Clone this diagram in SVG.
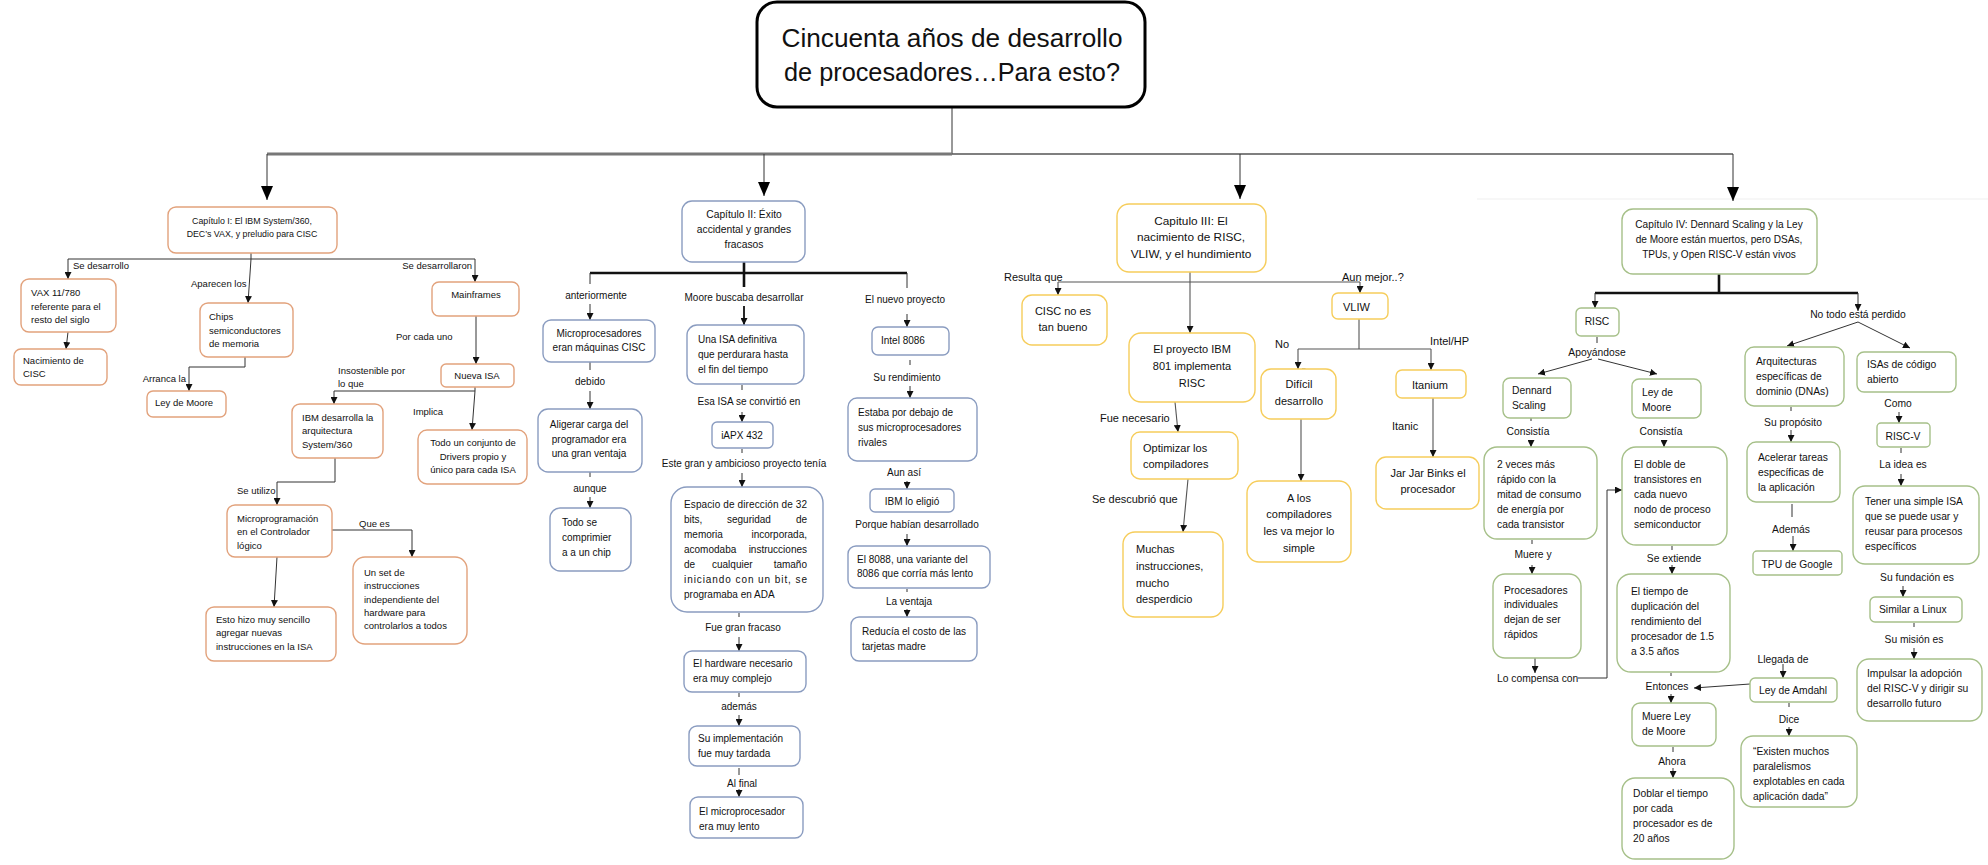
<svg xmlns="http://www.w3.org/2000/svg" width="1988" height="865" viewBox="0 0 1988 865">
<defs>
<style>
text{font-family:"Liberation Sans",Arial,sans-serif;fill:#111}
.m{text-anchor:middle}
.e{text-anchor:end}
.f1{font-size:9.5px}
.f1t{font-size:8.8px}
.f2{font-size:10px}
.f2t{font-size:10.3px}
.f3{font-size:11px}
.f3t{font-size:11.8px}
.f4{font-size:10.3px}
.f4t{font-size:10.1px}
rect{fill:#fff;stroke-width:1.4}
.b1{stroke:#e2a27c}
.b2{stroke:#8a9cc0}
.b3{stroke:#f6cd5b}
.b4{stroke:#a6c089}
.ln{fill:none;stroke:#333;stroke-width:1}
.lg{fill:none;stroke:#555;stroke-width:1.1}
.tk{fill:none;stroke:#111;stroke-width:2.6}
</style>
<marker id="big" markerUnits="userSpaceOnUse" markerWidth="14" markerHeight="12" refX="14" refY="6" orient="auto"><path d="M0,0 L14,6 L0,12 z" fill="#000"/></marker>
<marker id="ar" markerUnits="userSpaceOnUse" markerWidth="7" markerHeight="7" refX="7" refY="3.5" orient="auto"><path d="M0,0 L7,3.5 L0,7 z" fill="#111"/></marker>
</defs>
<rect x="0" y="0" width="1988" height="865" style="fill:#fff;stroke:none"/>
<path d="M1477,199 H1988" style="fill:none;stroke:#efefef;stroke-width:1"/>

<g id="connectors">
<path d="M952,107 V154" class="ln"/>
<path d="M267,154 H952" style="fill:none;stroke:#777;stroke-width:3"/>
<path d="M952,154 H1733" style="fill:none;stroke:#555;stroke-width:1.5"/>
<path d="M267,154 V200" class="ln" marker-end="url(#big)"/>
<path d="M764,154 V196" class="ln" marker-end="url(#big)"/>
<path d="M1240,154 V199" class="ln" marker-end="url(#big)"/>
<path d="M1733,154 V201" class="ln" marker-end="url(#big)"/>
<path d="M251,253 V259 M68,259 H475" class="ln"/>
<path d="M68,259 V279" class="ln" marker-end="url(#ar)"/>
<path d="M475,259 V282" class="ln" marker-end="url(#ar)"/>
<path d="M251,259 L248,303" class="ln" marker-end="url(#ar)"/>
<path d="M68,332 L66,349" class="ln" marker-end="url(#ar)"/>
<path d="M245,357 V367 H189 V391" class="ln" marker-end="url(#ar)"/>
<path d="M476,316 V364" class="ln" marker-end="url(#ar)"/>
<path d="M475,387 V391 H334 V404" class="ln" marker-end="url(#ar)"/>
<path d="M475,391 L472,430" class="ln" marker-end="url(#ar)"/>
<path d="M335,458 V482 H277 V505" class="ln" marker-end="url(#ar)"/>
<path d="M332,530 H412 V557" class="ln" marker-end="url(#ar)"/>
<path d="M277,557 L274,607" class="ln" marker-end="url(#ar)"/>
<path d="M744,262 V287 M590,273 H907" class="tk"/>
<path d="M590,273 V284 M907,273 V288" class="ln"/>
<path d="M590,304 V320" class="ln" marker-end="url(#ar)"/>
<path d="M744,306 V325" style="fill:none;stroke:#111;stroke-width:1.8" marker-end="url(#ar)"/>
<path d="M907,314 V327" class="ln" marker-end="url(#ar)"/>
<path d="M590,362 V370" class="ln"/>
<path d="M590,391 V409" class="ln" marker-end="url(#ar)"/>
<path d="M590,472 V477" class="ln"/>
<path d="M590,497 V508" class="ln" marker-end="url(#ar)"/>
<path d="M742,385 V390" class="ln"/>
<path d="M742,412 V422" class="ln" marker-end="url(#ar)"/>
<path d="M742,449 V453" class="ln"/>
<path d="M742,473 V487" class="ln" marker-end="url(#ar)"/>
<path d="M739,613 V617" class="ln"/>
<path d="M739,637 V651" class="ln" marker-end="url(#ar)"/>
<path d="M739,693 V697" class="ln"/>
<path d="M739,715 V726" class="ln" marker-end="url(#ar)"/>
<path d="M739,768 V775" class="ln"/>
<path d="M739,789 V797" class="ln" marker-end="url(#ar)"/>
<path d="M910,360 V365" class="ln"/>
<path d="M910,386 V398" class="ln" marker-end="url(#ar)"/>
<path d="M907,481 V489" class="ln" marker-end="url(#ar)"/>
<path d="M907,534 V546" class="ln" marker-end="url(#ar)"/>
<path d="M907,589 V592" class="ln"/>
<path d="M907,609 V617" class="ln" marker-end="url(#ar)"/>
<path d="M1190,272 V282 M1058,282 H1360" class="lg"/>
<path d="M1058,282 V295" class="lg" marker-end="url(#ar)"/>
<path d="M1360,282 V293" class="lg" marker-end="url(#ar)"/>
<path d="M1190,282 V333" class="lg" marker-end="url(#ar)"/>
<path d="M1175,402 L1178,432" class="lg" marker-end="url(#ar)"/>
<path d="M1188,479 L1183,532" class="lg" marker-end="url(#ar)"/>
<path d="M1359,319 V349 M1298,349 H1431" class="lg"/>
<path d="M1298,349 V369" class="lg" marker-end="url(#ar)"/>
<path d="M1431,349 V370" class="lg" marker-end="url(#ar)"/>
<path d="M1302,369 H1305 V383" class="lg"/>
<path d="M1301,419 V481" class="lg" marker-end="url(#ar)"/>
<path d="M1433,398 V457" class="lg" marker-end="url(#ar)"/>
<path d="M1719,274 V293 M1595,293 H1858" class="tk"/>
<path d="M1595,293 V308" class="ln" marker-end="url(#ar)"/>
<path d="M1858,293 V311" class="ln" marker-end="url(#ar)"/>
<path d="M1597,337 V343" class="ln"/>
<path d="M1592,359 L1538,374" class="ln" marker-end="url(#ar)"/>
<path d="M1598,359 L1657,374" class="ln" marker-end="url(#ar)"/>
<path d="M1531,418 V421" class="ln"/>
<path d="M1531,440 V447" class="ln" marker-end="url(#ar)"/>
<path d="M1664,440 V447" class="ln" marker-end="url(#ar)"/>
<path d="M1532,540 V544" class="ln"/>
<path d="M1532,565 V574" class="ln" marker-end="url(#ar)"/>
<path d="M1535,658 V673" class="ln" marker-end="url(#ar)"/>
<path d="M1578,678 H1607 V490 H1622" class="ln" marker-end="url(#ar)"/>
<path d="M1672,546 V550" class="ln"/>
<path d="M1672,565 V574" class="ln" marker-end="url(#ar)"/>
<path d="M1671,673 V676" class="ln"/>
<path d="M1671,694 V703" class="ln" marker-end="url(#ar)"/>
<path d="M1750,684 L1694,688" class="ln" marker-end="url(#ar)"/>
<path d="M1673,747 V752" class="ln"/>
<path d="M1673,768 V778" class="ln" marker-end="url(#ar)"/>
<path d="M1783,664 V678" class="ln" marker-end="url(#ar)"/>
<path d="M1789,703 V707" class="ln"/>
<path d="M1789,727 V736" class="ln" marker-end="url(#ar)"/>
<path d="M1858,322 L1787,346" class="ln" marker-end="url(#ar)"/>
<path d="M1858,322 L1910,348" class="ln" marker-end="url(#ar)"/>
<path d="M1791,407 V411" class="ln"/>
<path d="M1791,430 V442" class="ln" marker-end="url(#ar)"/>
<path d="M1792,504 V517" class="ln"/>
<path d="M1793,536 V551" class="ln" marker-end="url(#ar)"/>
<path d="M1899,412 V423" class="ln" marker-end="url(#ar)"/>
<path d="M1901,448 V453" class="ln"/>
<path d="M1901,474 V486" class="ln" marker-end="url(#ar)"/>
<path d="M1903,586 V597" class="ln" marker-end="url(#ar)"/>
<path d="M1914,623 V627" class="ln"/>
<path d="M1914,648 V659" class="ln" marker-end="url(#ar)"/>
</g>

<g id="labels">
<text class="f1" x="73" y="269">Se desarrollo</text>
<text class="f1 e" x="472" y="269">Se desarrollaron</text>
<text class="f1" x="191" y="287">Aparecen los</text>
<text class="f1 e" x="186" y="382">Arranca la</text>
<text class="f1" x="396" y="340">Por cada uno</text>
<text class="f1" x="338" y="374">Insostenible por</text>
<text class="f1" x="338" y="387">lo que</text>
<text class="f1" x="413" y="415">Implica</text>
<text class="f1" x="237" y="494">Se utilizo</text>
<text class="f1" x="359" y="527">Que es</text>
<text class="f2 m" x="596" y="299">anteriormente</text>
<text class="f2 m" x="744" y="301">Moore buscaba desarrollar</text>
<text class="f2 m" x="905" y="303">El nuevo proyecto</text>
<text class="f2 m" x="590" y="385">debido</text>
<text class="f2 m" x="590" y="492">aunque</text>
<text class="f2 m" x="749" y="404.5">Esa ISA se convirtió en</text>
<text class="f2 m" x="744" y="466.5">Este gran y ambicioso proyecto tenía</text>
<text class="f2 m" x="743" y="630.5">Fue gran fracaso</text>
<text class="f2 m" x="739" y="709.5">además</text>
<text class="f2 m" x="742" y="786.5">Al final</text>
<text class="f2 m" x="907" y="380.5">Su rendimiento</text>
<text class="f2 m" x="904" y="475.5">Aun así</text>
<text class="f2 m" x="917" y="527.5">Porque habían desarrollado</text>
<text class="f2 m" x="909" y="604.5">La ventaja</text>
<text class="f3" x="1004" y="281">Resulta que</text>
<text class="f3" x="1342" y="281">Aun mejor..?</text>
<text class="f3" x="1100" y="422">Fue necesario</text>
<text class="f3" x="1092" y="503">Se descubrió que</text>
<text class="f3" x="1275" y="348">No</text>
<text class="f3" x="1430" y="345">Intel/HP</text>
<text class="f3" x="1392" y="430">Itanic</text>
<text class="f4 m" x="1597" y="355.5">Apoyándose</text>
<text class="f4 m" x="1528" y="434.5">Consistía</text>
<text class="f4 m" x="1661" y="434.5">Consistía</text>
<text class="f4 m" x="1533" y="557.5">Muere y</text>
<text class="f4" x="1497" y="681.5">Lo compensa con</text>
<text class="f4 m" x="1674" y="561.5">Se extiende</text>
<text class="f4 m" x="1667" y="689.5">Entonces</text>
<text class="f4 m" x="1672" y="764.5">Ahora</text>
<text class="f4 m" x="1783" y="662.5">Llegada de</text>
<text class="f4 m" x="1789" y="722.5">Dice</text>
<text class="f4 m" x="1858" y="317.5">No todo está perdido</text>
<text class="f4 m" x="1793" y="425.5">Su propósito</text>
<text class="f4 m" x="1791" y="532.5">Además</text>
<text class="f4 m" x="1898" y="406.5">Como</text>
<text class="f4 m" x="1903" y="467.5">La idea es</text>
<text class="f4 m" x="1917" y="580.5">Su fundación es</text>
<text class="f4 m" x="1914" y="642.5">Su misión es</text>
</g>

<g id="title">
<rect x="757" y="2" width="388" height="105" rx="20" style="stroke:#000;stroke-width:3"/>
<text class="m" x="952" y="47" style="font-size:25px" textLength="341" lengthAdjust="spacingAndGlyphs">Cincuenta años de desarrollo</text>
<text class="m" x="952" y="81" style="font-size:25px" textLength="336" lengthAdjust="spacingAndGlyphs">de procesadores…Para esto?</text>
</g>

<g id="cap1"><rect class="b1" x="168" y="207" width="169" height="46" rx="8"/>
<text class="f1t m" x="252" y="224">Capítulo I: El IBM System/360,</text>
<text class="f1t m" x="252" y="237">DEC’s VAX, y preludio para CISC</text></g>
<g id="vax"><rect class="b1" x="21" y="279" width="95" height="53" rx="8"/>
<text class="f1" x="31" y="296">VAX 11/780</text><text class="f1" x="31" y="310">referente para el</text><text class="f1" x="31" y="323">resto del siglo</text></g>
<g id="nacimiento"><rect class="b1" x="14" y="349" width="93" height="36" rx="7"/>
<text class="f1" x="23" y="364">Nacimiento de</text><text class="f1" x="23" y="377">CISC</text></g>
<g id="chips"><rect class="b1" x="200" y="303" width="93" height="54" rx="8"/>
<text class="f1" x="209" y="320">Chips</text><text class="f1" x="209" y="334">semiconductores</text><text class="f1" x="209" y="347">de memoria</text></g>
<g id="leymoore1"><rect class="b1" x="147" y="391" width="79" height="26" rx="6"/>
<text class="f1" x="155" y="406">Ley de Moore</text></g>
<g id="mainframes"><rect class="b1" x="432" y="282" width="87" height="34" rx="7"/>
<text class="f1 m" x="476" y="298">Mainframes</text></g>
<g id="nuevaisa"><rect class="b1" x="441" y="364" width="73" height="23" rx="5"/>
<text class="f1 m" x="477" y="379">Nueva ISA</text></g>
<g id="ibm360"><rect class="b1" x="292" y="404" width="91" height="54" rx="8"/>
<text class="f1" x="302" y="421">IBM desarrolla la</text><text class="f1" x="302" y="434">arquitectura</text><text class="f1" x="302" y="448">System/360</text></g>
<g id="drivers"><rect class="b1" x="418" y="430" width="109" height="54" rx="9"/>
<text class="f1 m" x="473" y="446">Todo un conjunto de</text><text class="f1 m" x="473" y="460">Drivers propio y</text><text class="f1 m" x="473" y="473">único para cada ISA</text></g>
<g id="micro"><rect class="b1" x="227" y="505" width="105" height="52" rx="8"/>
<text class="f1" x="237" y="522">Microprogramación</text><text class="f1" x="237" y="535">en el Controlador</text><text class="f1" x="237" y="549">lógico</text></g>
<g id="unset"><rect class="b1" x="353" y="557" width="114" height="87" rx="12"/>
<text class="f1" x="364" y="576">Un set de</text><text class="f1" x="364" y="589">instrucciones</text><text class="f1" x="364" y="602.5">independiente del</text><text class="f1" x="364" y="616">hardware para</text><text class="f1" x="364" y="629">controlarlos a todos</text></g>
<g id="esto"><rect class="b1" x="206" y="607" width="130" height="54" rx="8"/>
<text class="f1" x="216" y="623">Esto hizo muy sencillo</text><text class="f1" x="216" y="636">agregar nuevas</text><text class="f1" x="216" y="650">instrucciones en la ISA</text></g>

<g id="cap2"><rect class="b2" x="682" y="201" width="123" height="61" rx="10"/>
<text class="f2t m" x="744" y="218">Capítulo II: Éxito</text><text class="f2t m" x="744" y="233">accidental y grandes</text><text class="f2t m" x="744" y="248">fracasos</text></g>
<g id="microcisc"><rect class="b2" x="543" y="320" width="112" height="42" rx="8"/>
<text class="f2 m" x="599" y="336.5">Microprocesadores</text><text class="f2 m" x="599" y="350.5">eran máquinas CISC</text></g>
<g id="aligerar"><rect class="b2" x="538" y="409" width="104" height="63" rx="10"/>
<text class="f2 m" x="589" y="427.5">Aligerar carga del</text><text class="f2 m" x="589" y="442.5">programador era</text><text class="f2 m" x="589" y="456.5">una gran ventaja</text></g>
<g id="todose"><rect class="b2" x="550" y="508" width="81" height="63" rx="10"/>
<text class="f2" x="562" y="525.5">Todo se</text><text class="f2" x="562" y="540.5">comprimier</text><text class="f2" x="562" y="555.5">a a un chip</text></g>
<g id="unaisa"><rect class="b2" x="687" y="325" width="117" height="59" rx="10"/>
<text class="f2" x="698" y="342.5">Una ISA definitiva</text><text class="f2" x="698" y="357.5">que perdurara hasta</text><text class="f2" x="698" y="372.5">el fin del tiempo</text></g>
<g id="iapx"><rect class="b2" x="712" y="422" width="61" height="26" rx="5"/>
<text class="f2 m" x="742" y="438.5">iAPX 432</text></g>
<g id="espacio"><rect class="b2" x="671" y="487" width="152" height="125" rx="16"/>
<text class="f2" x="684" y="507.5" textLength="123" lengthAdjust="spacing">Espacio de dirección de 32</text>
<text class="f2" x="684" y="522.5">bits,</text><text class="f2" x="727" y="522.5">seguridad</text><text class="f2 e" x="807" y="522.5">de</text>
<text class="f2" x="684" y="537.5">memoria</text><text class="f2 e" x="807" y="537.5">incorporada,</text>
<text class="f2" x="684" y="552.5">acomodaba</text><text class="f2 e" x="807" y="552.5">instrucciones</text>
<text class="f2" x="684" y="567.5">de</text><text class="f2" x="712" y="567.5">cualquier</text><text class="f2 e" x="807" y="567.5">tamaño</text>
<text class="f2" x="684" y="582.5" textLength="123" lengthAdjust="spacing">iniciando con un bit, se</text>
<text class="f2" x="684" y="597.5">programaba en ADA</text></g>
<g id="hardware"><rect class="b2" x="684" y="651" width="122" height="41" rx="8"/>
<text class="f2" x="693" y="666.5">El hardware necesario</text><text class="f2" x="693" y="681.5">era muy complejo</text></g>
<g id="implementacion"><rect class="b2" x="689" y="726" width="111" height="40" rx="8"/>
<text class="f2" x="698" y="741.5">Su implementación</text><text class="f2" x="698" y="756.5">fue muy tardada</text></g>
<g id="lento"><rect class="b2" x="690" y="797" width="113" height="41" rx="8"/>
<text class="f2" x="699" y="814.5">El microprocesador</text><text class="f2" x="699" y="829.5">era muy lento</text></g>
<g id="intel8086"><rect class="b2" x="872" y="327" width="77" height="28" rx="6"/>
<text class="f2" x="881" y="343.5">Intel 8086</text></g>
<g id="estaba"><rect class="b2" x="848" y="398" width="129" height="63" rx="9"/>
<text class="f2" x="858" y="415.5">Estaba por debajo de</text><text class="f2" x="858" y="430.5">sus microprocesadores</text><text class="f2" x="858" y="445.5">rivales</text></g>
<g id="ibmeligio"><rect class="b2" x="870" y="489" width="84" height="23" rx="5"/>
<text class="f2 m" x="912" y="504.5">IBM lo eligió</text></g>
<g id="i8088"><rect class="b2" x="848" y="546" width="142" height="42" rx="8"/>
<text class="f2" x="857" y="562.5">El 8088, una variante del</text><text class="f2" x="857" y="576.5">8086 que corría más lento</text></g>
<g id="reducia"><rect class="b2" x="851" y="617" width="126" height="44" rx="8"/>
<text class="f2" x="862" y="634.5">Reducía el costo de las</text><text class="f2" x="862" y="649.5">tarjetas madre</text></g>

<g id="cap3"><rect class="b3" x="1117" y="204" width="149" height="68" rx="12"/>
<text class="f3t m" x="1191" y="225">Capitulo III: El</text><text class="f3t m" x="1191" y="241">nacimiento de RISC,</text><text class="f3t m" x="1191" y="258">VLIW, y el hundimiento</text></g>
<g id="cisc"><rect class="b3" x="1022" y="295" width="85" height="50" rx="10"/>
<text class="f3 m" x="1063" y="315">CISC no es</text><text class="f3 m" x="1063" y="331">tan bueno</text></g>
<g id="ibm801"><rect class="b3" x="1129" y="333" width="126" height="69" rx="12"/>
<text class="f3 m" x="1192" y="353">El proyecto IBM</text><text class="f3 m" x="1192" y="370">801 implementa</text><text class="f3 m" x="1192" y="387">RISC</text></g>
<g id="optimizar"><rect class="b3" x="1131" y="432" width="107" height="47" rx="9"/>
<text class="f3" x="1143" y="452">Optimizar los</text><text class="f3" x="1143" y="468">compiladores</text></g>
<g id="muchas"><rect class="b3" x="1123" y="532" width="100" height="85" rx="12"/>
<text class="f3" x="1136" y="553">Muchas</text><text class="f3" x="1136" y="570">instrucciones,</text><text class="f3" x="1136" y="587">mucho</text><text class="f3" x="1136" y="603">desperdicio</text></g>
<g id="vliw"><rect class="b3" x="1332" y="293" width="56" height="26" rx="6"/>
<text class="f3" x="1343" y="311">VLIW</text></g>
<g id="dificil"><rect class="b3" x="1261" y="369" width="75" height="50" rx="10"/>
<text class="f3 m" x="1299" y="388">Difícil</text><text class="f3 m" x="1299" y="405">desarrollo</text></g>
<g id="alos"><rect class="b3" x="1247" y="481" width="104" height="81" rx="12"/>
<text class="f3 m" x="1299" y="502">A los</text><text class="f3 m" x="1299" y="518">compiladores</text><text class="f3 m" x="1299" y="535">les va mejor lo</text><text class="f3 m" x="1299" y="552">simple</text></g>
<g id="itanium"><rect class="b3" x="1396" y="370" width="70" height="28" rx="6"/>
<text class="f3 m" x="1430" y="389">Itanium</text></g>
<g id="jarjar"><rect class="b3" x="1376" y="457" width="103" height="52" rx="10"/>
<text class="f3 m" x="1428" y="477">Jar Jar Binks el</text><text class="f3 m" x="1428" y="493">procesador</text></g>

<g id="cap4"><rect class="b4" x="1622" y="209" width="195" height="65" rx="11"/>
<text class="f4t m" x="1719" y="227.5">Capítulo IV: Dennard Scaling y la Ley</text><text class="f4t m" x="1719" y="242.5">de Moore están muertos, pero DSAs,</text><text class="f4t m" x="1719" y="257.5">TPUs, y Open RISC-V están vivos</text></g>
<g id="risc"><rect class="b4" x="1576" y="308" width="43" height="28" rx="5"/>
<text class="f4 m" x="1597" y="324.5">RISC</text></g>
<g id="dennard"><rect class="b4" x="1503" y="378" width="68" height="40" rx="7"/>
<text class="f4" x="1512" y="393.5">Dennard</text><text class="f4" x="1512" y="408.5">Scaling</text></g>
<g id="leymoore4"><rect class="b4" x="1632" y="379" width="69" height="39" rx="7"/>
<text class="f4" x="1642" y="395.5">Ley de</text><text class="f4" x="1642" y="410.5">Moore</text></g>
<g id="dosveces"><rect class="b4" x="1484" y="447" width="113" height="92" rx="13"/>
<text class="f4" x="1497" y="467.5">2 veces más</text><text class="f4" x="1497" y="482.5">rápido con la</text><text class="f4" x="1497" y="497.5">mitad de consumo</text><text class="f4" x="1497" y="512.5">de energía por</text><text class="f4" x="1497" y="527.5">cada transistor</text></g>
<g id="doble"><rect class="b4" x="1622" y="447" width="105" height="98" rx="14"/>
<text class="f4" x="1634" y="467.5">El doble de</text><text class="f4" x="1634" y="482.5">transistores en</text><text class="f4" x="1634" y="497.5">cada nuevo</text><text class="f4" x="1634" y="512.5">nodo de proceso</text><text class="f4" x="1634" y="527.5">semiconductor</text></g>
<g id="procesadores"><rect class="b4" x="1493" y="574" width="88" height="84" rx="12"/>
<text class="f4" x="1504" y="593.5">Procesadores</text><text class="f4" x="1504" y="608">individuales</text><text class="f4" x="1504" y="623">dejan de ser</text><text class="f4" x="1504" y="637.5">rápidos</text></g>
<g id="eltiempo"><rect class="b4" x="1617" y="574" width="113" height="98" rx="14"/>
<text class="f4" x="1631" y="594.5">El tiempo de</text><text class="f4" x="1631" y="609.5">duplicación del</text><text class="f4" x="1631" y="624.5">rendimiento del</text><text class="f4" x="1631" y="639.5">procesador de 1.5</text><text class="f4" x="1631" y="654.5">a 3.5 años</text></g>
<g id="muereley"><rect class="b4" x="1632" y="703" width="84" height="43" rx="8"/>
<text class="f4" x="1642" y="719.5">Muere Ley</text><text class="f4" x="1642" y="734.5">de Moore</text></g>
<g id="doblar"><rect class="b4" x="1622" y="778" width="112" height="81" rx="13"/>
<text class="f4" x="1633" y="796.5">Doblar el tiempo</text><text class="f4" x="1633" y="811.5">por cada</text><text class="f4" x="1633" y="826.5">procesador es de</text><text class="f4" x="1633" y="841.5">20 años</text></g>
<g id="amdahl"><rect class="b4" x="1750" y="678" width="87" height="24" rx="5"/>
<text class="f4" x="1759" y="693.5">Ley de Amdahl</text></g>
<g id="existen"><rect class="b4" x="1741" y="736" width="116" height="71" rx="12"/>
<text class="f4" x="1753" y="754.5">“Existen muchos</text><text class="f4" x="1753" y="769.5">paralelismos</text><text class="f4" x="1753" y="784.5">explotables en cada</text><text class="f4" x="1753" y="799.5">aplicación dada”</text></g>
<g id="arquitecturas"><rect class="b4" x="1745" y="347" width="99" height="59" rx="9"/>
<text class="f4" x="1756" y="364.5">Arquitecturas</text><text class="f4" x="1756" y="379.5">específicas de</text><text class="f4" x="1756" y="394.5">dominio (DNAs)</text></g>
<g id="isas"><rect class="b4" x="1857" y="352" width="99" height="40" rx="7"/>
<text class="f4" x="1867" y="367.5">ISAs de código</text><text class="f4" x="1867" y="382.5">abierto</text></g>
<g id="acelerar"><rect class="b4" x="1747" y="442" width="93" height="60" rx="9"/>
<text class="f4" x="1758" y="460.5">Acelerar tareas</text><text class="f4" x="1758" y="475.5">específicas de</text><text class="f4" x="1758" y="490.5">la aplicación</text></g>
<g id="tpu"><rect class="b4" x="1753" y="551" width="89" height="24" rx="4"/>
<text class="f4 m" x="1797" y="567.5">TPU de Google</text></g>
<g id="riscv"><rect class="b4" x="1877" y="423" width="53" height="24" rx="4"/>
<text class="f4 m" x="1903" y="439.5">RISC-V</text></g>
<g id="tener"><rect class="b4" x="1853" y="486" width="126" height="78" rx="12"/>
<text class="f4" x="1865" y="504.5">Tener una simple ISA</text><text class="f4" x="1865" y="519.5">que se puede usar y</text><text class="f4" x="1865" y="534.5">reusar para procesos</text><text class="f4" x="1865" y="549.5">específicos</text></g>
<g id="linux"><rect class="b4" x="1870" y="597" width="92" height="25" rx="5"/>
<text class="f4" x="1879" y="612.5">Similar a Linux</text></g>
<g id="impulsar"><rect class="b4" x="1857" y="659" width="125" height="62" rx="12"/>
<text class="f4" x="1867" y="676.5">Impulsar la adopción</text><text class="f4" x="1867" y="691.5">del RISC-V y dirigir su</text><text class="f4" x="1867" y="706.5">desarrollo futuro</text></g>
</svg>
